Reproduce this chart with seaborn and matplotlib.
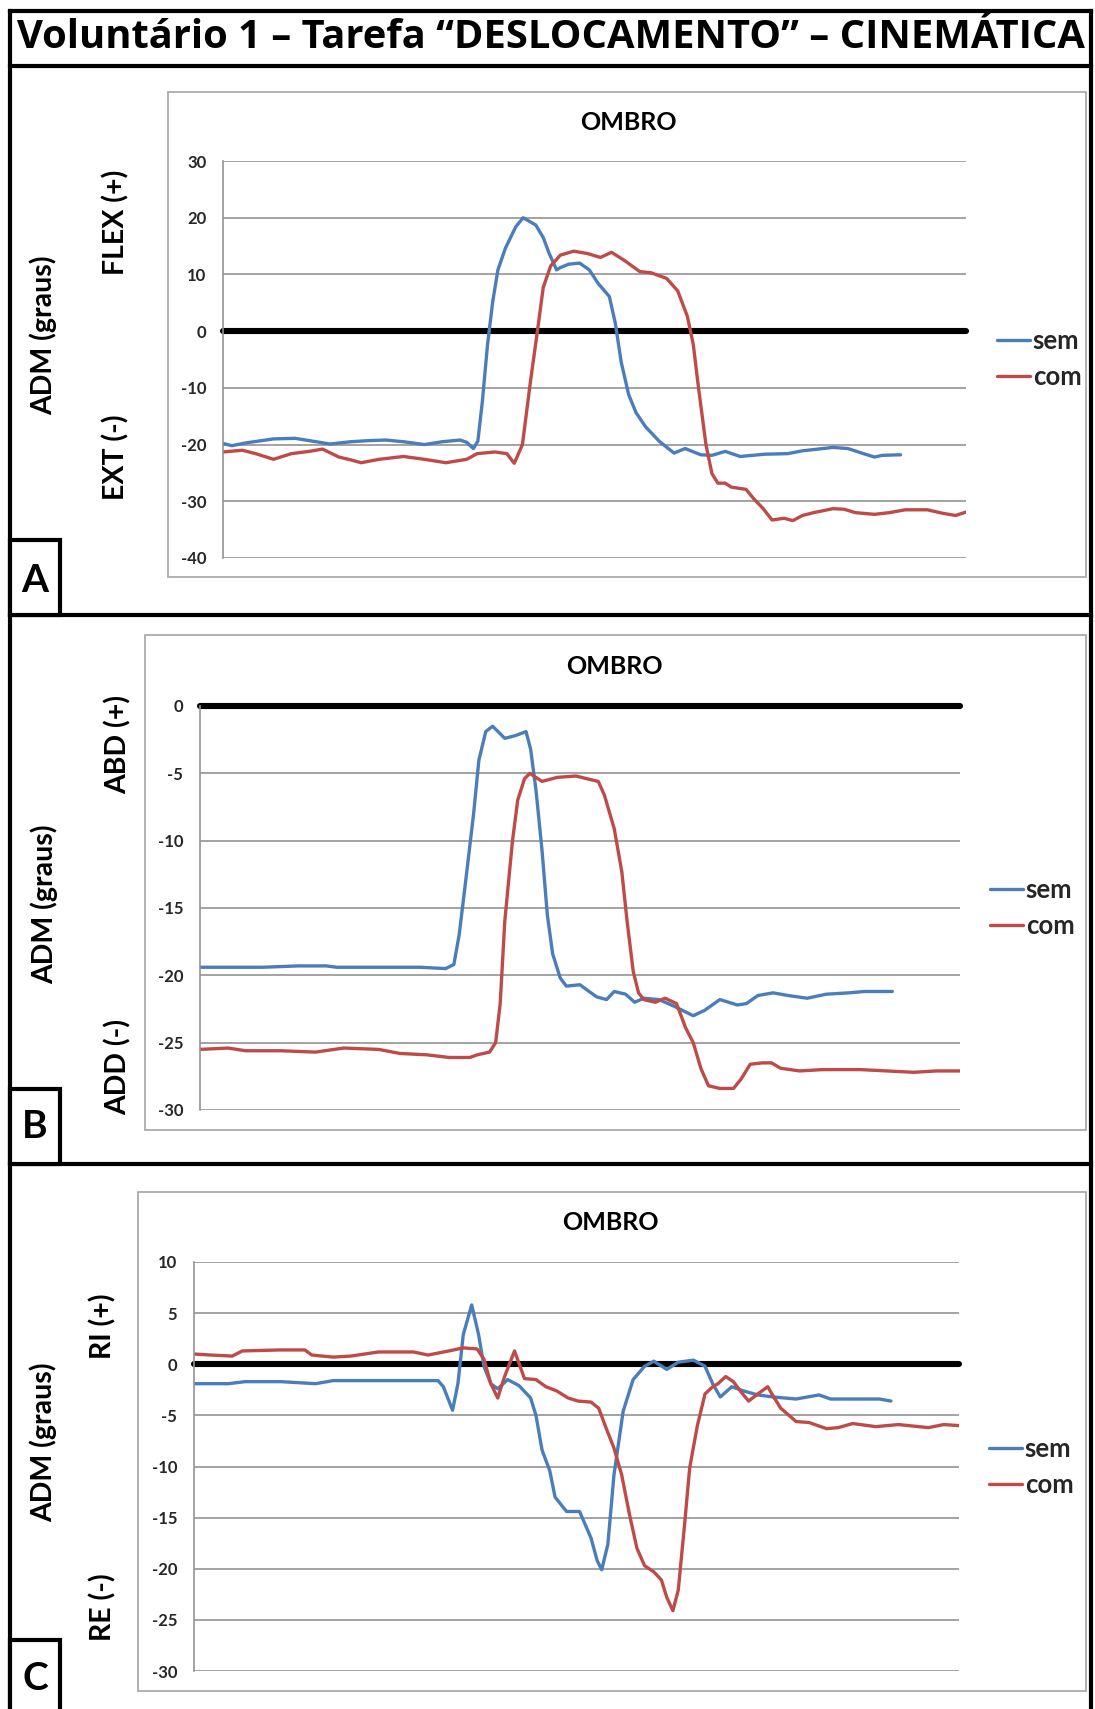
import numpy as np
import pandas as pd
import matplotlib
matplotlib.use("Agg")
import matplotlib.pyplot as plt
import seaborn as sns
from matplotlib.patches import Rectangle
from matplotlib.lines import Line2D

# ---------------- data (x = % of recording, y = degrees) ----------------
series_names = ["sem", "com"]

a_sem_x = [0, 1.2, 3.1, 6.8, 9.7, 11.6, 14.4, 17.2, 19.6, 21.9, 24.3, 27.1, 29.5, 31.9, 32.8, 33.7,
           34.3, 34.9, 35.6, 36.3, 37.0, 38.0, 39.4, 40.4, 42.1, 43.1, 43.9, 44.9, 45.4, 46.5, 48.0,
           49.3, 50.5, 52.0, 52.8, 53.6, 54.6, 55.6, 56.9, 58.7, 60.7, 62.2, 64.3, 65.8, 67.6, 69.6,
           72.9, 76.0, 78.0, 82.1, 84.1, 86.2, 87.7, 88.7, 91.2]
a_sem_y = [-19.8, -20.2, -19.7, -19.0, -18.9, -19.3, -19.9, -19.5, -19.3, -19.2, -19.5, -20.0, -19.5,
           -19.2, -19.6, -20.7, -19.4, -12.5, -2.4, 5.2, 10.8, 14.6, 18.4, 20.0, 18.7, 16.5, 13.7, 10.8,
           11.2, 11.8, 12.0, 10.8, 8.4, 6.1, 1.4, -5.5, -11.2, -14.4, -16.9, -19.4, -21.5, -20.7, -21.8,
           -21.9, -21.2, -22.1, -21.7, -21.6, -21.1, -20.5, -20.7, -21.6, -22.2, -21.9, -21.8]
a_com_x = [0, 2.6, 4.4, 6.8, 9.2, 11.6, 13.4, 15.6, 17.2, 18.6, 21.0, 24.3, 27.1, 30.0, 32.8, 34.2,
           36.6, 38.2, 39.2, 40.3, 41.4, 42.4, 43.1, 44.1, 45.4, 47.2, 49.0, 50.8, 52.3, 54.1, 56.1,
           57.6, 59.7, 61.2, 62.5, 63.3, 64.0, 65.0, 65.8, 66.6, 67.6, 68.4, 70.4, 71.4, 72.7, 73.9,
           75.5, 76.7, 78.0, 79.5, 82.1, 83.6, 85.1, 87.7, 89.7, 91.8, 94.8, 96.8, 98.6, 100]
a_com_y = [-21.3, -21.0, -21.6, -22.6, -21.6, -21.2, -20.8, -22.2, -22.7, -23.2, -22.6, -22.1, -22.6,
           -23.2, -22.6, -21.6, -21.3, -21.6, -23.3, -20.0, -8.7, 0.8, 7.7, 11.5, 13.4, 14.1, 13.7,
           13.0, 13.9, 12.4, 10.5, 10.3, 9.3, 7.1, 2.6, -2.4, -10.0, -20.0, -25.1, -26.8, -26.8, -27.5,
           -27.9, -29.5, -31.3, -33.3, -33.0, -33.4, -32.5, -32.0, -31.3, -31.4, -32.0, -32.3, -32.0,
           -31.5, -31.5, -32.1, -32.5, -31.9]

b_sem_x = [0, 3.7, 8.3, 12.9, 16.6, 18.0, 24.5, 29.0, 32.3, 33.4, 34.1, 35.0, 36.0, 36.7, 37.6, 38.5,
           40.1, 41.5, 42.9, 43.5, 44.2, 45.0, 45.7, 46.4, 47.4, 48.2, 50.0, 51.2, 52.2, 53.5, 54.5,
           56.0, 57.2, 58.4, 60.4, 62.4, 64.9, 66.4, 68.4, 70.7, 71.9, 73.4, 75.4, 77.4, 79.9, 82.4,
           85.4, 87.4, 89.4, 91.1]
b_sem_y = [-19.4, -19.4, -19.4, -19.3, -19.3, -19.4, -19.4, -19.4, -19.5, -19.2, -17.0, -12.8, -8.0,
           -4.0, -1.9, -1.5, -2.4, -2.2, -1.9, -3.2, -6.2, -10.7, -15.5, -18.4, -20.2, -20.8, -20.7,
           -21.2, -21.6, -21.8, -21.2, -21.4, -22.0, -21.7, -21.8, -22.3, -23.0, -22.6, -21.8, -22.2,
           -22.1, -21.5, -21.3, -21.5, -21.7, -21.4, -21.3, -21.2, -21.2, -21.2]
b_com_x = [0, 3.7, 6.0, 10.6, 15.2, 18.9, 23.5, 26.3, 29.8, 32.8, 35.5, 36.5, 38.1, 38.9, 39.5, 40.1,
           41.1, 41.8, 42.7, 43.4, 45.0, 47.0, 49.5, 50.9, 52.4, 53.2, 54.5, 55.5, 56.2, 57.0, 57.7,
           58.4, 59.9, 61.2, 62.7, 63.9, 64.9, 65.9, 66.9, 68.4, 70.2, 71.2, 72.4, 74.0, 75.2, 76.4,
           78.9, 81.9, 86.9, 90.4, 93.9, 96.9, 100]
b_com_y = [-25.5, -25.4, -25.6, -25.6, -25.7, -25.4, -25.5, -25.8, -25.9, -26.1, -26.1, -25.9, -25.7,
           -25.0, -22.1, -16.0, -10.1, -7.0, -5.4, -5.0, -5.6, -5.3, -5.2, -5.4, -5.6, -6.6, -9.1,
           -12.3, -16.0, -19.7, -21.3, -21.8, -22.0, -21.7, -22.1, -23.9, -25.0, -26.9, -28.2, -28.4,
           -28.4, -27.7, -26.6, -26.5, -26.5, -26.9, -27.1, -27.0, -27.0, -27.1, -27.2, -27.1, -27.1]

c_sem_x = [0, 4.5, 6.7, 11.3, 15.9, 18.2, 22.8, 27.4, 31.9, 32.6, 33.8, 34.5, 35.2, 36.3, 37.2, 37.9,
           38.8, 39.7, 41.0, 42.5, 44.0, 44.7, 45.5, 46.5, 47.2, 48.7, 50.4, 51.9, 52.7, 53.3, 54.1,
           54.9, 56.1, 57.4, 58.9, 60.1, 61.8, 63.3, 65.3, 66.8, 67.8, 68.8, 70.3, 71.8, 73.7, 75.7,
           78.7, 81.7, 83.2, 85.7, 87.6, 89.6, 91.1]
c_sem_y = [-1.9, -1.9, -1.7, -1.7, -1.9, -1.6, -1.6, -1.6, -1.6, -2.2, -4.5, -1.9, 2.9, 5.8, 2.9, -0.2,
           -1.9, -2.4, -1.5, -2.1, -3.3, -5.0, -8.4, -10.4, -13.0, -14.4, -14.4, -17.0, -19.2, -20.1,
           -17.6, -10.8, -4.6, -1.5, -0.2, 0.3, -0.5, 0.2, 0.4, -0.2, -1.9, -3.2, -2.2, -2.6, -3.0,
           -3.2, -3.4, -3.0, -3.4, -3.4, -3.4, -3.4, -3.6]
c_com_x = [0, 2.2, 5.0, 6.3, 11.3, 14.5, 15.4, 18.2, 20.5, 24.1, 28.7, 30.6, 33.3, 35.2, 37.0, 37.9,
           38.8, 39.7, 40.6, 41.9, 43.2, 44.7, 46.0, 47.4, 48.9, 50.2, 51.9, 52.9, 53.9, 54.9, 55.9,
           56.9, 57.9, 58.9, 60.1, 61.1, 61.8, 62.6, 63.3, 64.1, 64.8, 65.8, 66.8, 67.8, 68.5, 69.5,
           70.5, 71.5, 72.5, 73.7, 75.0, 75.7, 76.7, 78.7, 80.4, 82.7, 84.2, 86.1, 89.1, 92.1, 96.0,
           98.0, 100]
c_com_y = [1.0, 0.9, 0.8, 1.3, 1.4, 1.4, 0.9, 0.7, 0.8, 1.2, 1.2, 0.9, 1.3, 1.6, 1.5, 0.5, -1.9, -3.3,
           -1.2, 1.3, -1.4, -1.5, -2.2, -2.6, -3.3, -3.6, -3.7, -4.3, -6.3, -8.2, -10.8, -14.6, -18.0,
           -19.7, -20.3, -21.1, -22.8, -24.1, -22.1, -15.9, -10.1, -6.0, -2.9, -2.2, -1.9, -1.2, -1.7,
           -2.7, -3.6, -2.9, -2.2, -3.1, -4.3, -5.6, -5.7, -6.3, -6.2, -5.8, -6.1, -5.9, -6.2, -5.9,
           -6.0]

title_text = "Voluntário 1 – Tarefa “DESLOCAMENTO” – CINEMÁTICA"
panel_titles = ["OMBRO", "OMBRO", "OMBRO"]
panel_letters = ["A", "B", "C"]
pos_labels = ["FLEX (+)", "ABD (+)", "RI (+)"]
neg_labels = ["EXT (-)", "ADD (-)", "RE (-)"]
yaxis_label = "ADM (graus)"
a_ticks = [-40, -30, -20, -10, 0, 10, 20, 30]
b_ticks = [-30, -25, -20, -15, -10, -5, 0]
c_ticks = [-30, -25, -20, -15, -10, -5, 0, 5, 10]

# ---------------- style ----------------
sns.set_theme(style="white")
plt.rcParams["font.family"] = ["Lato", "DejaVu Sans"]
plt.rcParams["font.weight"] = "bold"

BLUE = "#4A7EBB"
RED = "#BE4B48"
GRID = "#939393"
W, H = 1095, 1709

fig = plt.figure(figsize=(W / 100, H / 100), dpi=100)
fig.patch.set_facecolor("white")


def fline(x0, y0, x1, y1, lw=3.0, color="black"):
    fig.add_artist(Line2D([x0 / W, x1 / W], [1 - y0 / H, 1 - y1 / H], color=color, lw=lw,
                          transform=fig.transFigure, solid_capstyle="projecting"))


def frect(x0, y0, x1, y1, ec, lw, fc="none", z=0):
    fig.add_artist(Rectangle((x0 / W, 1 - y1 / H), (x1 - x0) / W, (y1 - y0) / H, transform=fig.transFigure,
                             fc=fc, ec=ec, lw=lw, zorder=z))


def ftext(x, y, s, size, rot=0, ha="center", va="center", z=6, family=None):
    kw = {}
    if family is not None:
        kw["family"] = family
    return fig.text(x / W, 1 - y / H, s, fontsize=size, fontweight="bold", rotation=rot, ha=ha, va=va,
                    color="black", zorder=z, **kw)


# outer frame and separators
fline(10, 11, 10, 1712)
fline(1091, 11, 1091, 1712)
fline(10, 11, 1091, 11)
fline(10, 66, 1091, 66)
fline(10, 615, 1091, 615)
fline(10, 1164, 1091, 1164)

# title, fitted to the width of its box
title = ftext(551, 48, title_text, 28, va="baseline", family=["Open Sans", "Lato", "DejaVu Sans"])
fig.canvas.draw()
bb = title.get_window_extent()
title.set_fontsize(28 * 1066 / bb.width)

layout = [
    dict(frame=(168, 92, 1086, 577), plot=(223, 161, 966, 558), ticks=a_ticks,
         adm=(43, 335), pos=(116, 222), neg=(116, 457), ombro=(628, 123), leg=(984, 359),
         box=(10, 540, 60, 615), let=(35, 580),
         sem=(a_sem_x, a_sem_y), com=(a_com_x, a_com_y)),
    dict(frame=(145, 635, 1086, 1130), plot=(200, 706, 960, 1110), ticks=b_ticks,
         adm=(44, 904), pos=(118, 744), neg=(118, 1067), ombro=(614, 666), leg=(977, 908),
         box=(10, 1089, 60, 1164), let=(35, 1127),
         sem=(b_sem_x, b_sem_y), com=(b_com_x, b_com_y)),
    dict(frame=(138, 1192, 1086, 1691), plot=(194, 1262, 959, 1671), ticks=c_ticks,
         adm=(43, 1442), pos=(103, 1326), neg=(103, 1607), ombro=(610, 1223), leg=(976, 1467),
         box=(10, 1640, 60, 1712), let=(35, 1678),
         sem=(c_sem_x, c_sem_y), com=(c_com_x, c_com_y)),
]

for i, L in enumerate(layout):
    fx0, fy0, fx1, fy1 = L["frame"]
    frect(fx0, fy0, fx1, fy1, "#ABABAB", 1.3)
    px0, py0, px1, py1 = L["plot"]
    ax = fig.add_axes([px0 / W, 1 - py1 / H, (px1 - px0) / W, (py1 - py0) / H])
    ax.set_facecolor("none")

    df = pd.concat([
        pd.DataFrame({"x": L["sem"][0], "y": L["sem"][1], "serie": series_names[0]}),
        pd.DataFrame({"x": L["com"][0], "y": L["com"][1], "serie": series_names[1]}),
    ], ignore_index=True)

    ax.axhline(0, color="black", lw=4.4, clip_on=False, zorder=1.5)
    sns.lineplot(data=df, x="x", y="y", hue="serie", hue_order=series_names,
                 palette={"sem": BLUE, "com": RED}, estimator=None, sort=False,
                 linewidth=2.4, legend=False, ax=ax, zorder=2)

    ticks = L["ticks"]
    ax.set_xlim(0, 100)
    ax.set_ylim(ticks[0], ticks[-1])
    ax.set_yticks(ticks)
    ax.set_yticklabels([str(t) for t in ticks])
    ax.set_xticks([])
    ax.set_xlabel("")
    ax.set_ylabel("")
    ax.grid(axis="y", color=GRID, lw=1.2)
    ax.set_axisbelow(True)
    for s in ["top", "right", "bottom"]:
        ax.spines[s].set_visible(False)
    ax.spines["left"].set_color(GRID)
    ax.spines["left"].set_linewidth(1.2)
    ax.tick_params(axis="y", length=0, pad=12, labelsize=12, labelcolor="#262626")
    for t in ax.get_yticklabels():
        t.set_fontweight("bold")

    lines = ax.get_lines()[1:3]
    leg = ax.legend(lines, series_names, loc="center left",
                    bbox_to_anchor=(L["leg"][0] / W, 1 - L["leg"][1] / H),
                    bbox_transform=fig.transFigure, frameon=False, fontsize=18.5,
                    handlelength=1.3, handletextpad=0.1, labelspacing=0.5, borderpad=0)
    for t in leg.get_texts():
        t.set_fontweight("bold")

    ftext(*L["ombro"], panel_titles[i], 18)
    ftext(*L["adm"], yaxis_label, 20.5, rot=90)
    ftext(*L["pos"], pos_labels[i], 20.5, rot=90)
    ftext(*L["neg"], neg_labels[i], 20.5, rot=90)

    bx0, by0, bx1, by1 = L["box"]
    frect(bx0, by0, bx1, by1, "black", 3.0, fc="white", z=5)
    ftext(*L["let"], panel_letters[i], 28, z=7)

fig.savefig("out.png", dpi=100, facecolor="white")
